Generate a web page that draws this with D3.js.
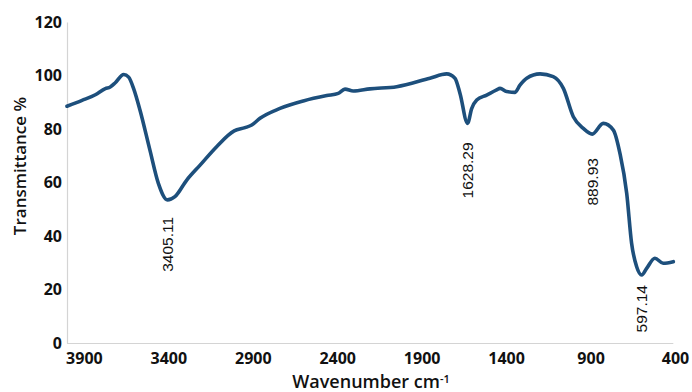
<!DOCTYPE html>
<html>
<head>
<meta charset="utf-8">
<script src="https://cdn.jsdelivr.net/npm/d3@7"></script>
<style>
  html, body { margin: 0; padding: 0; background: #ffffff; }
  svg { display: block; }
</style>
</head>
<body>
<svg id="chart" width="692" height="392"></svg>
<script>
// FTIR spectrum: wavenumber (cm-1) and transmittance (%)
const wavenumbers = [4000, 3911, 3832, 3773, 3744, 3714, 3664, 3635, 3605, 3568, 3509, 3459,
  3405.11, 3361, 3291, 3212, 3114, 3010, 2946, 2906, 2857, 2739, 2601, 2462, 2394, 2354,
  2305, 2206, 2048, 1851, 1752, 1703, 1673, 1628.29, 1604, 1574, 1515, 1456, 1436, 1397,
  1347, 1318, 1278, 1199, 1121, 1061, 1002, 943, 889.93, 825, 765, 726, 686, 657, 627,
  597.14, 568, 519, 470, 410];
const transmittance = [88.5, 90.7, 92.8, 95.1, 95.7, 97.3, 100.4, 99.4, 95, 87.1, 72.1, 59.7,
  53.5, 54.7, 60.9, 66.5, 73.4, 79.3, 80.5, 81.5, 84, 87.7, 90.5, 92.5, 93.3, 94.9,
  94.2, 95, 95.8, 99, 100.6, 99, 93.3, 82.1, 87.6, 90.8, 92.7, 94.6, 95.2, 94,
  93.7, 96.4, 99, 100.6, 99.6, 95.2, 84.6, 80.2, 78.1, 82.1, 79.6, 70.9, 56, 37.3, 28.5,
  25.4, 27.9, 31.7, 29.8, 30.4];

// Labelled absorption bands
const bandPeaks = [3405.11, 1628.29, 889.93, 597.14];
const bandLabels = ["3405.11", "1628.29", "889.93", "597.14"];

// Axis ticks
const xTicks = [3900, 3400, 2900, 2400, 1900, 1400, 900, 400];
const yTicks = [0, 20, 40, 60, 80, 100, 120];

// Layout and styling
const plot = { left: 67, right: 675, top: 22, bottom: 343 };
const labelGaps = [17, 19, 24, 10];
const lineColor = "#1d4f7c";
const axisColor = "#d4d4d4";
const tickFont = "'Open Sans', sans-serif";

const svg = d3.select("#chart");

const x = d3.scaleLinear().domain([4000, 400]).range([plot.left, plot.right]);
const y = d3.scaleLinear().domain([0, 120]).range([plot.bottom, plot.top]);

const points = wavenumbers.map((w, i) => ({ w, t: transmittance[i] }));

// Axes
const xAxis = svg.append("g")
  .attr("transform", `translate(0,${plot.bottom})`)
  .call(d3.axisBottom(x).tickValues(xTicks).tickSize(0).tickPadding(10).tickFormat(d3.format("d")));
xAxis.select(".domain").attr("stroke", axisColor).attr("stroke-width", 1.2)
  .attr("d", `M${plot.left},0.5H${x(410)}`);
xAxis.selectAll("text")
  .attr("fill", "#111")
  .style("font-family", tickFont)
  .style("font-weight", 700)
  .style("font-size", "16px");

const yAxis = svg.append("g")
  .attr("transform", `translate(${plot.left},0)`)
  .call(d3.axisLeft(y).tickValues(yTicks).tickSize(0).tickPadding(5));
yAxis.select(".domain").attr("stroke", axisColor).attr("stroke-width", 1.2);
yAxis.selectAll("text")
  .attr("fill", "#111")
  .style("font-family", tickFont)
  .style("font-weight", 700)
  .style("font-size", "16px");

// Spectrum line
const line = d3.line()
  .x(d => x(d.w))
  .y(d => y(d.t))
  .curve(d3.curveMonotoneX);

svg.append("path")
  .datum(points)
  .attr("fill", "none")
  .attr("stroke", lineColor)
  .attr("stroke-width", 3.6)
  .attr("stroke-linejoin", "round")
  .attr("stroke-linecap", "round")
  .attr("d", line);

// Band labels, rotated below each minimum
svg.append("g")
  .selectAll("text")
  .data(bandPeaks)
  .join("text")
  .attr("transform", (w, i) => {
    const t = transmittance[wavenumbers.indexOf(w)];
    return `translate(${x(w)},${y(t) + labelGaps[i]}) rotate(-90)`;
  })
  .attr("text-anchor", "end")
  .attr("dy", "0.35em")
  .attr("fill", "#111")
  .style("font-family", "'Liberation Sans', Arial, sans-serif")
  .style("font-size", "15.5px")
  .text((w, i) => bandLabels[i]);

// Axis titles
svg.append("text")
  .attr("transform", `translate(20,166) rotate(-90)`)
  .attr("text-anchor", "middle")
  .attr("dy", "0.35em")
  .attr("fill", "#111")
  .style("font-family", tickFont)
  .style("font-weight", 600)
  .style("font-size", "17px")
  .text("Transmittance %");

const xTitle = svg.append("text")
  .attr("x", 371)
  .attr("y", 388)
  .attr("text-anchor", "middle")
  .attr("fill", "#111")
  .style("font-family", tickFont)
  .style("font-weight", 600)
  .style("font-size", "18px");
xTitle.append("tspan").text("Wavenumber cm");
xTitle.append("tspan").attr("dy", "-0.45em").style("font-size", "11px").text("-1");
</script>
</body>
</html>
